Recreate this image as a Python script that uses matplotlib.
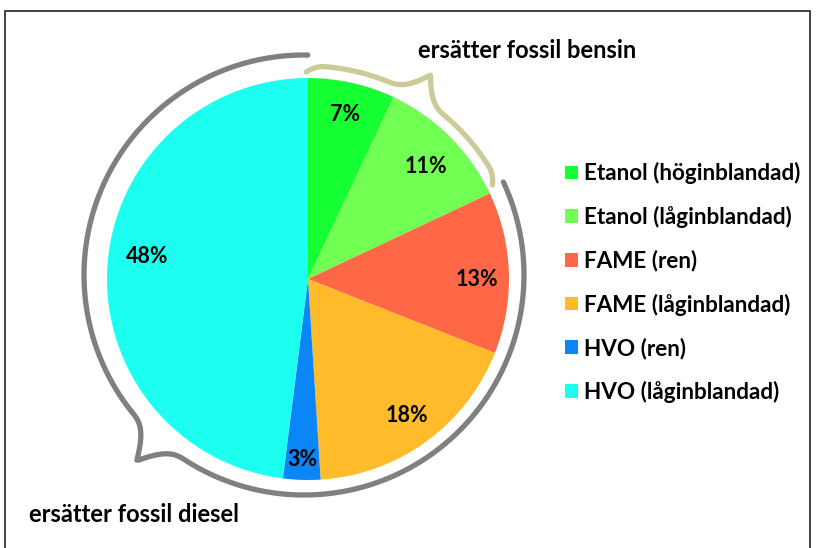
import numpy as np
import matplotlib.pyplot as plt
from matplotlib.patches import Rectangle

labels = ['Etanol (höginblandad)', 'Etanol (låginblandad)', 'FAME (ren)',
          'FAME (låginblandad)', 'HVO (ren)', 'HVO (låginblandad)']
shares = [7, 11, 13, 18, 3, 48]
colors = ['#16ff33', '#70ff52', '#ff6847', '#ffbb2a', '#0a86f7', '#1cfff0']
group_texts = ['ersätter fossil bensin', 'ersätter fossil diesel']

W, H = 817, 548
plt.rcParams['font.family'] = ['Lato', 'DejaVu Sans']

fig = plt.figure(figsize=(W / 100, H / 100), dpi=100)
ax = fig.add_axes([0, 0, 1, 1])

cx, cy, R = 308, H - 279, 201
wedges, _, pcts = ax.pie(shares, colors=colors, startangle=90, counterclock=False,
                         center=(cx, cy), radius=R, autopct='%d%%', pctdistance=0.84,
                         textprops=dict(fontsize=15.5, fontweight='bold', color='black'))
# nudge a few labels the way the original (best-fit) placement had them
for i, (da, fr) in {1: (-1.5, 0.81), 2: (-2, 0.84), 4: (0, 0.9), 5: (-4.5, 0.81)}.items():
    w = wedges[i]
    ang = np.radians((w.theta1 + w.theta2) / 2 + da)
    pcts[i].set_position((cx + fr * R * np.cos(ang), cy + fr * R * np.sin(ang)))
ax.set_xlim(0, W)
ax.set_ylim(0, H)
ax.axis('off')


def brace(a0, a1, tip, rad, h, ox, oy, color, curl=0):
    # curly brace along an arc, angles in degrees (math convention)
    a = np.linspace(a0, a1, 800)
    d = np.abs(a - tip)
    r = rad + h * np.clip(1 - d / 9, 0, None) ** 2.5
    if curl:
        e = np.minimum(a - a0, a1 - a) if a1 > a0 else np.minimum(a0 - a, a - a1)
        r -= curl * np.clip(1 - e / 5, 0, None) ** 2
    ax.plot(ox + r * np.cos(np.radians(a)), oy + r * np.sin(np.radians(a)),
            color=color, lw=3.8, solid_capstyle='round', zorder=3)


# bensin brace (khaki) and diesel brace (gray)
brace(90.5, 27, 59, 213, 25, cx, cy, '#cbcb98', curl=6)
brace(89, 385, 228, 220, 30, cx - 4, cy + 4, '#808080', curl=0)

ax.text(418, H - 50, group_texts[0], fontsize=17, fontweight='bold', va='center')
ax.text(29, H - 514, group_texts[1], fontsize=17, fontweight='bold', va='center')

fig.legend(wedges, labels, loc='upper left', bbox_to_anchor=(545 / W, 1 - 142 / H),
           frameon=False, handlelength=0.55, handleheight=0.55,
           handletextpad=0.3, labelspacing=0.97, prop=dict(weight='bold', size=16.2))

fig.add_artist(Rectangle((5 / W, -0.05), 805 / W, 1.05 - 11 / H, transform=fig.transFigure,
                         fill=False, edgecolor='#222222', lw=1.2))

fig.savefig('out.png', dpi=100)
